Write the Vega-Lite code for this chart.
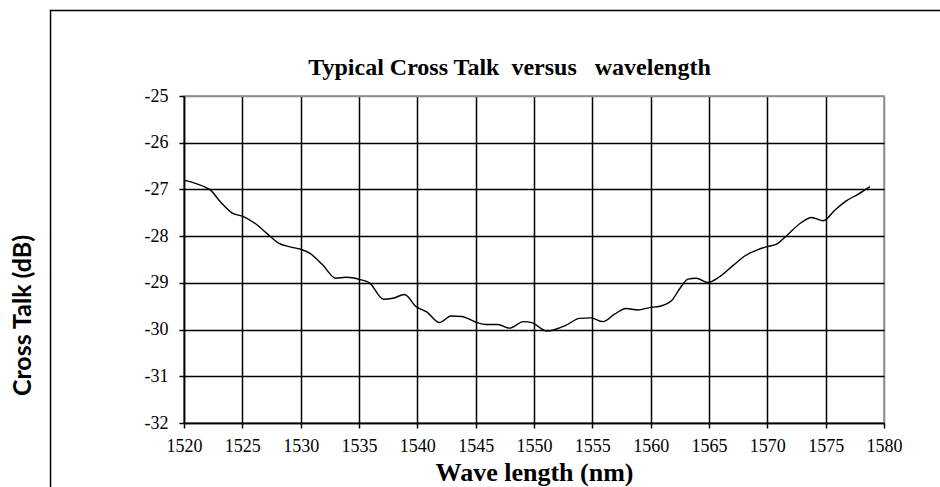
{
  "$schema": "https://vega.github.io/schema/vega-lite/v6.json",
  "width": 700,
  "height": 327,
  "autosize": {"type": "none"},
  "padding": {"left": 184, "top": 96, "right": 56, "bottom": 64},
  "background": "white",
  "config": {
    "view": {"stroke": "#8c8c8c", "strokeWidth": 1.5},
    "axis": {
      "labelFont": "Liberation Serif",
      "labelFontSize": 18,
      "labelColor": "black",
      "tickColor": "black",
      "tickSize": 5,
      "tickWidth": 1.5,
      "domainColor": "black",
      "domainWidth": 1.5,
      "gridWidth": 1.5,
      "titleColor": "black"
    }
  },
  "layer": [
    {
      "data": {"values": [{}]},
      "mark": {"type": "rect", "fill": null, "stroke": "black", "strokeWidth": 1.5, "clip": false},
      "encoding": {
        "x": {"datum": 1508.56, "type": "quantitative"},
        "x2": {"datum": 1585.5},
        "y": {"datum": -23.17, "type": "quantitative"},
        "y2": {"datum": -33.6}
      }
    },
    {
      "data": {"values": [{"t": "Typical Cross Talk \u00a0versus \u00a0 wavelength"}]},
      "mark": {
        "type": "text",
        "font": "Liberation Serif",
        "fontSize": 24,
        "fontWeight": "bold",
        "color": "black",
        "align": "center",
        "baseline": "alphabetic",
        "clip": false
      },
      "encoding": {
        "x": {"datum": 1547.9, "type": "quantitative"},
        "y": {"datum": -24.55, "type": "quantitative"},
        "text": {"field": "t"}
      }
    },
    {
      "data": {
        "values": [
          {"wl": 1520.0, "ct": -26.8},
          {"wl": 1521.9, "ct": -26.96},
          {"wl": 1522.2, "ct": -27.0},
          {"wl": 1523.1, "ct": -27.26},
          {"wl": 1524.1, "ct": -27.5},
          {"wl": 1525.1, "ct": -27.58},
          {"wl": 1526.1, "ct": -27.73},
          {"wl": 1527.1, "ct": -27.94},
          {"wl": 1528.1, "ct": -28.15},
          {"wl": 1529.1, "ct": -28.23},
          {"wl": 1530.0, "ct": -28.28},
          {"wl": 1530.8, "ct": -28.37},
          {"wl": 1531.9, "ct": -28.62},
          {"wl": 1533.0, "ct": -28.9},
          {"wl": 1533.9, "ct": -28.88},
          {"wl": 1535.1, "ct": -28.93},
          {"wl": 1535.9, "ct": -29.0},
          {"wl": 1537.1, "ct": -29.35},
          {"wl": 1537.9, "ct": -29.33},
          {"wl": 1538.9, "ct": -29.25},
          {"wl": 1539.9, "ct": -29.51},
          {"wl": 1540.8, "ct": -29.62},
          {"wl": 1541.9, "ct": -29.85},
          {"wl": 1542.9, "ct": -29.71},
          {"wl": 1543.8, "ct": -29.72},
          {"wl": 1545.1, "ct": -29.85},
          {"wl": 1545.9, "ct": -29.89},
          {"wl": 1546.9, "ct": -29.89},
          {"wl": 1547.9, "ct": -29.97},
          {"wl": 1549.1, "ct": -29.83},
          {"wl": 1549.8, "ct": -29.85},
          {"wl": 1551.1, "ct": -30.03},
          {"wl": 1552.8, "ct": -29.9},
          {"wl": 1553.9, "ct": -29.76},
          {"wl": 1554.9, "ct": -29.75},
          {"wl": 1555.9, "ct": -29.83},
          {"wl": 1556.9, "ct": -29.67},
          {"wl": 1557.9, "ct": -29.55},
          {"wl": 1558.9, "ct": -29.58},
          {"wl": 1559.9, "ct": -29.53},
          {"wl": 1560.8, "ct": -29.5},
          {"wl": 1561.8, "ct": -29.38},
          {"wl": 1562.5, "ct": -29.12},
          {"wl": 1563.2, "ct": -28.92},
          {"wl": 1563.9, "ct": -28.9},
          {"wl": 1564.9, "ct": -28.99},
          {"wl": 1565.9, "ct": -28.87},
          {"wl": 1567.1, "ct": -28.62},
          {"wl": 1568.1, "ct": -28.42},
          {"wl": 1569.1, "ct": -28.3},
          {"wl": 1569.9, "ct": -28.23},
          {"wl": 1570.8, "ct": -28.17},
          {"wl": 1571.7, "ct": -27.98},
          {"wl": 1572.8, "ct": -27.73},
          {"wl": 1573.8, "ct": -27.6},
          {"wl": 1574.8, "ct": -27.67},
          {"wl": 1575.8, "ct": -27.44},
          {"wl": 1576.8, "ct": -27.24},
          {"wl": 1577.8, "ct": -27.1},
          {"wl": 1578.8, "ct": -26.94}
        ]
      },
      "mark": {"type": "line", "color": "black", "strokeWidth": 1.4, "interpolate": "monotone"},
      "encoding": {
        "x": {
          "field": "wl",
          "type": "quantitative",
          "scale": {"domain": [1520, 1580], "nice": false, "zero": false},
          "axis": {
            "values": [1520, 1525, 1530, 1535, 1540, 1545, 1550, 1555, 1560, 1565, 1570, 1575, 1580],
            "labelExpr": "toString(datum.value)",
            "title": "Wave length  (nm)",
            "titleFont": "Liberation Serif",
            "titleFontSize": 26,
            "titleFontWeight": "bold",
            "titleBaseline": "alphabetic",
            "titleY": 57,
            "labelPadding": 9,
            "labelFlush": false,
            "grid": true,
            "gridColor": {"condition": {"test": "datum.value === 1580", "value": "#8c8c8c"}, "value": "black"}
          }
        },
        "y": {
          "field": "ct",
          "type": "quantitative",
          "scale": {"domain": [-32, -25], "nice": false, "zero": false},
          "axis": {
            "values": [-32, -31, -30, -29, -28, -27, -26, -25],
            "labelExpr": "toString(datum.value)",
            "title": "Cross Talk (dB)",
            "titleFont": "Lato",
            "titleFontSize": 25,
            "titleFontWeight": "bold",
            "titleAngle": -90,
            "titleBaseline": "middle",
            "titleAlign": "center",
            "titleX": -162,
            "titleY": 219,
            "labelPadding": 11,
            "labelFlush": false,
            "grid": true,
            "gridColor": {"condition": {"test": "datum.value === -25", "value": "#8c8c8c"}, "value": "black"}
          }
        }
      }
    }
  ]
}
